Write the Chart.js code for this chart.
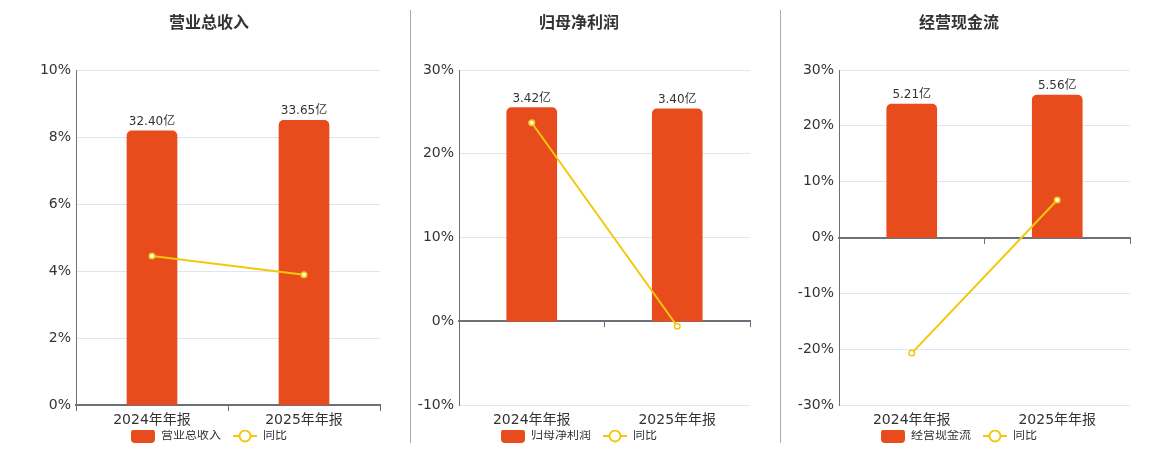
<!DOCTYPE html>
<html><head><meta charset="utf-8">
<script src="https://cdn.jsdelivr.net/npm/chart.js@4.4.1/dist/chart.umd.min.js"></script>
<style>
html,body{margin:0;padding:0;background:#fff;}
#wrap{position:relative;width:1160px;height:450px;overflow:hidden;background:#fff;}
.sep{position:absolute;top:10px;width:1px;height:433px;background:#aaaaaa;}
.pane{position:absolute;top:0;height:450px;}
</style></head><body>
<div id="wrap">
<div class="sep" style="left:410px"></div>
<div class="sep" style="left:780px"></div>
<div class="pane" style="left:38px;width:344px"><canvas id="c1" width="344" height="450"></canvas></div>
<div class="pane" style="left:408px;width:344px"><canvas id="c2" width="344" height="450"></canvas></div>
<div class="pane" style="left:788px;width:344px"><canvas id="c3" width="344" height="450"></canvas></div>
</div>
<script>
// ---- data ----
const categories = ['2024年年报', '2025年年报'];
const titles = ['营业总收入', '归母净利润', '经营现金流'];
const revenueValues = [32.40, 33.65];   // 亿
const revenueYoY = [4.45, 3.89];        // %
const profitValues = [3.42, 3.40];
const profitYoY = [23.7, -0.6];
const cashValues = [5.21, 5.56];
const cashYoY = [-20.7, 6.72];
const yoyLabel = '同比';
const revenueTicks = [0, 10, 2];   // min, max, step
const profitTicks = [-10, 30, 10];
const cashTicks = [-30, 30, 10];

// ---- styles ----
const FONT = "'DejaVu Sans','Noto Sans CJK SC',sans-serif";
const BAR = '#e84c1d';
const LINE = '#f3c80c';
const AXIS = '#6e7079';
const GRID = '#e0e6f1';
const TXT = '#333333';
const ICON_GAP = 12;

function barIcon(){
  const c = document.createElement('canvas'); c.width = 24 + ICON_GAP; c.height = 14;
  const g = c.getContext('2d'); g.fillStyle = BAR;
  g.beginPath(); g.roundRect(ICON_GAP, 0, 24, 14, 4); g.fill();
  return c;
}
function lineIcon(){
  const c = document.createElement('canvas'); c.width = 24 + ICON_GAP; c.height = 14;
  const g = c.getContext('2d'); g.strokeStyle = LINE; g.lineWidth = 2;
  g.beginPath(); g.moveTo(ICON_GAP, 7); g.lineTo(ICON_GAP + 24, 7); g.stroke();
  g.beginPath(); g.arc(ICON_GAP + 12, 7, 5.5, 0, Math.PI * 2); g.fillStyle = '#fff'; g.fill(); g.stroke();
  return c;
}
const ICONS = [barIcon(), lineIcon()];

const barLabels = {
  id: 'barLabels',
  afterDatasetsDraw(chart){
    const meta = chart.getDatasetMeta(0);
    const ctx = chart.ctx;
    ctx.save();
    ctx.font = '12px ' + FONT;
    ctx.fillStyle = TXT;
    ctx.textAlign = 'center';
    ctx.textBaseline = 'alphabetic';
    meta.data.forEach((el, i) => {
      ctx.fillText(chart.data.datasets[0].data[i].toFixed(2) + '亿', el.x, el.y - 6);
    });
    ctx.restore();
  }
};

// re-centre the legend content (the icons carry a transparent leading gap)
const legendShift = {
  id: 'legendShift',
  afterLayout(chart){
    if (chart.legend) { chart.legend.left -= ICON_GAP / 2; chart.legend.right -= ICON_GAP / 2; }
  }
};

function makeChart(id, title, values, yoy, ticks, yWidth){
  const [mn, mx, step] = ticks;
  const y1max = Math.max(...values) / 0.85;
  const y1min = y1max * (mn / mx);
  return new Chart(document.getElementById(id), {
    type: 'bar',
    data: {
      labels: categories,
      datasets: [
        { type: 'bar', label: title, data: values, yAxisID: 'y1', xAxisID: 'x',
          backgroundColor: BAR, borderRadius: {topLeft: 5, topRight: 5, bottomLeft: 0, bottomRight: 0},
          borderSkipped: false, barThickness: 50, order: 1 },
        { type: 'line', label: yoyLabel, data: yoy, yAxisID: 'y', xAxisID: 'x',
          borderColor: LINE, borderWidth: 2, pointRadius: 2.8, pointBorderWidth: 1.5,
          pointBackgroundColor: '#fff', pointBorderColor: LINE, tension: 0, order: 0 }
      ]
    },
    options: {
      responsive: false, animation: false, devicePixelRatio: 1,
      layout: { autoPadding: false, padding: { left: 0, right: 2, top: 0, bottom: -2 } },
      plugins: {
        title: { display: true, text: title, color: TXT, font: { family: FONT, size: 16, weight: 'bold' },
                 padding: { top: 14, bottom: 36.8 } },
        legend: { position: 'bottom',
          labels: { usePointStyle: true, pointStyleWidth: 24 + ICON_GAP, padding: 0, color: TXT,
                    font: { family: FONT, size: 12 },
                    generateLabels(chart){
                      return chart.data.datasets.map((ds, i) => ({
                        text: ds.label, pointStyle: ICONS[i], fillStyle: 'transparent',
                        strokeStyle: 'transparent', lineWidth: 0, hidden: !chart.isDatasetVisible(i),
                        datasetIndex: i, fontColor: TXT
                      }));
                    } } },
        tooltip: { enabled: false }
      },
      scales: {
        x: { type: 'category', position: { y: 0 }, offset: true,
             ticks: { display: false },
             grid: { drawOnChartArea: false, drawTicks: true, tickLength: 5, color: AXIS, offset: true },
             border: { color: AXIS, width: 2 } },
        xb: { type: 'category', position: 'bottom', offset: true,
              grid: { display: false, drawTicks: false }, border: { display: false },
              ticks: { color: TXT, font: { family: FONT, size: 14 }, padding: 6.5 },
              afterFit(s){ s.height = 25; } },
        y: { position: 'left', min: mn, max: mx,
             ticks: { stepSize: step, callback: v => v + '%', color: TXT, font: { family: FONT, size: 14 }, padding: 5 },
             grid: { color: GRID, drawTicks: false },
             border: { color: AXIS, width: 1 },
             afterFit(s){ s.width = yWidth; } },
        y1: { display: false, min: y1min, max: y1max }
      }
    },
    plugins: [barLabels, legendShift]
  });
}

makeChart('c1', titles[0], revenueValues, revenueYoY, revenueTicks, 38);
makeChart('c2', titles[1], profitValues, profitYoY, profitTicks, 51);
makeChart('c3', titles[2], cashValues, cashYoY, cashTicks, 51);
</script>
</body></html>
